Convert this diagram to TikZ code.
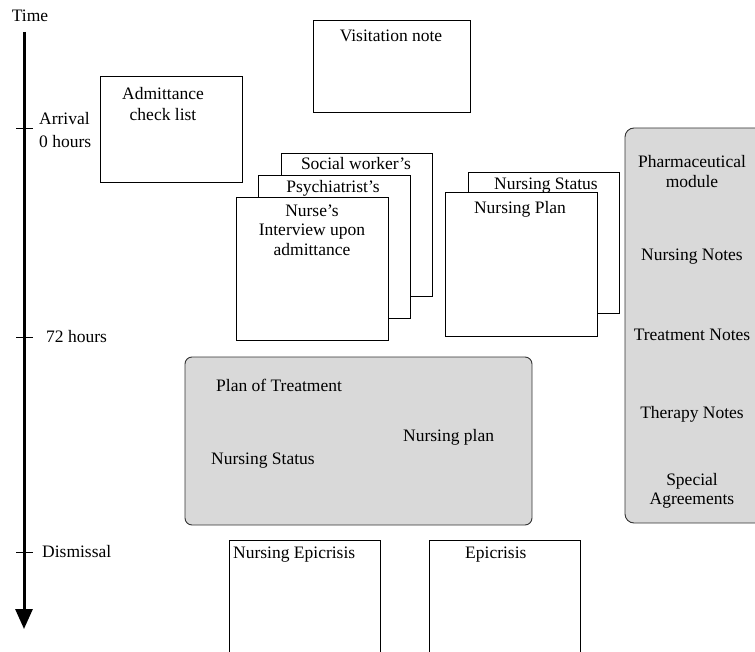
\documentclass[tikz,border=0pt]{standalone}
\usepackage{fontspec}
\setmainfont{Liberation Serif}
\usetikzlibrary{arrows.meta}
\tikzset{
  txt/.style={font=\fontsize{17.5}{20}\selectfont, inner sep=0pt, anchor=base},
  txtl/.style={txt, anchor=base west},
  sheet/.style={draw, line width=0.9pt, fill=white, inner sep=0pt},
  grouppanel/.style={draw=black!80, line width=0.9pt, fill=black!15, rounded corners=9pt, inner sep=0pt},
  tick/.style={line width=0.8pt},
}
\begin{document}
\begin{tikzpicture}[x=1pt,y=-1pt]
\useasboundingbox (0,0) rectangle (755,652);

% time axis
\node[txt] (time) at (30,22) {Time};
\coordinate (ttop) at (24,32);
\coordinate (tend) at (24,629);
\draw[line width=3pt, -{Triangle[width=17pt,length=20pt]}] (ttop) -- (tend);
\coordinate (t0a) at (16,128);  \coordinate (t0b) at (33,128);
\coordinate (t72a) at (16,337); \coordinate (t72b) at (33,337);
\coordinate (tda) at (16,552);  \coordinate (tdb) at (33,552);
\draw[tick] (t0a) -- (t0b);
\draw[tick] (t72a) -- (t72b);
\draw[tick] (tda) -- (tdb);
\node[txtl] (arr) at (39,125) {Arrival};
\node[txtl] (h0) at (39,148) {0 hours};
\node[txtl] (h72) at (46,342) {72 hours};
\node[txtl] (dis) at (42,557) {Dismissal};

% documents at arrival
\node[sheet, minimum width=142pt, minimum height=106pt] (adm) at (171,129) {};
\node[txt] (admt1) at (163,100) {Admittance};
\node[txt] (admt2) at (163,121) {check list};
\node[sheet, minimum width=157pt, minimum height=92pt] (vis) at (391.5,66) {};
\node[txt] (vist) at (391,42) {Visitation note};

% interview stack
\node[sheet, minimum width=151pt, minimum height=143pt] (soc) at (356.5,224.5) {};
\node[txt] (soct) at (356,170) {Social worker's};
\node[sheet, minimum width=152pt, minimum height=143pt] (psy) at (334,246.5) {};
\node[txt] (psyt) at (333,193) {Psychiatrist's};
\node[sheet, minimum width=152pt, minimum height=143pt] (nur) at (312,268.5) {};
\node[txt] (nurt1) at (312,217) {Nurse's};
\node[txt] (nurt2) at (312,236) {Interview upon};
\node[txt] (nurt3) at (312,256) {admittance};

% nursing stack
\node[sheet, minimum width=151pt, minimum height=141pt] (nst) at (543.5,242.5) {};
\node[txt] (nstt) at (546,190) {Nursing Status};
\node[sheet, minimum width=152pt, minimum height=144pt] (npl) at (521,264) {};
\node[txt] (nplt) at (520,214) {Nursing Plan};

% running modules on the right
\node[grouppanel, minimum width=150pt, minimum height=395pt] (mod) at (700,325.5) {};
\node[txt] (m1a) at (692,168) {Pharmaceutical};
\node[txt] (m1b) at (692,188) {module};
\node[txt] (m2) at (692,261) {Nursing Notes};
\node[txt] (m3) at (692,341) {Treatment Notes};
\node[txt] (m4) at (692,418) {Therapy Notes};
\node[txt] (m5a) at (692,485) {Special};
\node[txt] (m5b) at (692,504) {Agreements};

% treatment planning
\node[grouppanel, minimum width=347pt, minimum height=168pt, rounded corners=7pt] (plan) at (358.5,441) {};
\node[txtl] (p1) at (216,391) {Plan of Treatment};
\node[txtl] (p2) at (403,441) {Nursing plan};
\node[txtl] (p3) at (211,464) {Nursing Status};

% dismissal documents
\node[sheet, minimum width=151pt, minimum height=130pt] (nep) at (304.5,605) {};
\node[txtl] (nept) at (233,558) {Nursing Epicrisis};
\node[sheet, minimum width=151pt, minimum height=130pt] (epi) at (504.5,605) {};
\node[txtl] (epit) at (465,558) {Epicrisis};
\end{tikzpicture}
\end{document}
